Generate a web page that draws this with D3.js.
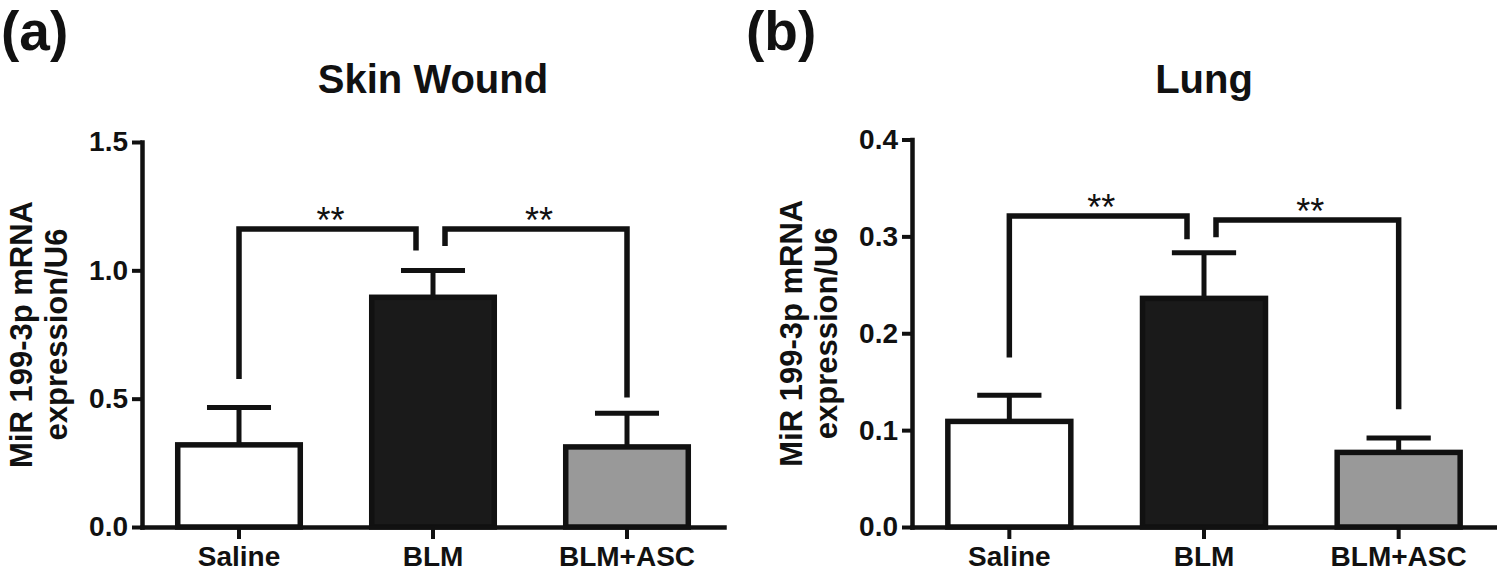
<!DOCTYPE html>
<html>
<head>
<meta charset="utf-8">
<script src="https://cdn.jsdelivr.net/npm/d3@7/dist/d3.min.js"></script>
<style>
  html, body { margin: 0; padding: 0; background: #ffffff; }
  svg { display: block; }
</style>
</head>
<body>
<svg id="chart" width="1497" height="572"></svg>
<script>
// ---------- DATA ----------
const categories = ["Saline", "BLM", "BLM+ASC"];

const skinTitle = "Skin Wound";
const skinMeans = [0.32, 0.895, 0.312];
const skinErrors = [0.146, 0.104, 0.131];
const skinTicks = [0.0, 0.5, 1.0, 1.5];
const skinDomain = [0, 1.5];
// brackets: [fromCategory, toCategory, leg bottom at "from", leg bottom at "to", top level, label]
const skinBrackets = [
  [0, 1, 0.577, 1.077, 1.161, "**"],
  [1, 2, 1.095, 0.505, 1.161, "**"]
];

const lungTitle = "Lung";
const lungMeans = [0.109, 0.236, 0.077];
const lungErrors = [0.027, 0.047, 0.015];
const lungTicks = [0.0, 0.1, 0.2, 0.3, 0.4];
const lungDomain = [0, 0.4];
const lungBrackets = [
  [0, 1, 0.175, 0.297, 0.321, "**"],
  [1, 2, 0.299, 0.1215, 0.317, "**"]
];

const barFills = ["#ffffff", "#1a1a1a", "#999999"];
const yLabelLines = ["MiR 199-3p mRNA", "expression/U6"];
const panelLetters = ["(a)", "(b)"];

// ---------- DRAW ----------
const FONT = "Liberation Sans, Arial, Helvetica, sans-serif";
const svg = d3.select("#chart");
svg.append("rect").attr("width", 1497).attr("height", 572).attr("fill", "#fff");

function drawPanel(cfg) {
  const g = svg.append("g");
  const x = d3.scaleBand().domain(categories)
    .range([cfg.left, cfg.right]).paddingInner(0.34).paddingOuter(0.17);
  const y = d3.scaleLinear().domain(cfg.domain).range([cfg.bottom, cfg.top]);
  const bw = x.bandwidth();
  const cx = c => x(c) + bw / 2;
  const SW = 5.5;

  // bars
  g.selectAll("rect.bar").data(cfg.means).enter().append("rect")
    .attr("class", "bar")
    .attr("x", (d, i) => x(categories[i]) + SW / 2)
    .attr("width", bw - SW)
    .attr("y", d => y(d))
    .attr("height", d => y(0) - y(d))
    .attr("fill", (d, i) => barFills[i])
    .attr("stroke", "#111")
    .attr("stroke-width", SW);

  // error bars (upper only)
  cfg.means.forEach((m, i) => {
    const c = cx(categories[i]);
    const top = y(m + cfg.errors[i]);
    g.append("line").attr("x1", c).attr("x2", c)
      .attr("y1", y(m)).attr("y2", top)
      .attr("stroke", "#111").attr("stroke-width", 5);
    g.append("line").attr("x1", c - bw / 4).attr("x2", c + bw / 4)
      .attr("y1", top).attr("y2", top)
      .attr("stroke", "#111").attr("stroke-width", 5);
  });

  // axes
  const yAxis = d3.axisLeft(y).tickValues(cfg.ticks).tickFormat(d3.format(".1f"))
    .tickSize(10).tickPadding(4).tickSizeOuter(0);
  const ya = g.append("g").attr("transform", `translate(${cfg.left},0)`).call(yAxis);
  const xAxis = d3.axisBottom(x).tickSize(12).tickPadding(7).tickSizeOuter(0);
  const xa = g.append("g").attr("transform", `translate(0,${cfg.bottom})`).call(xAxis);
  [ya, xa].forEach(a => {
    a.selectAll("path.domain").attr("stroke", "#111").attr("stroke-width", 4.5)
      .attr("stroke-linecap", "square");
    a.selectAll(".tick line").attr("stroke", "#111").attr("stroke-width", 4);
    a.selectAll(".tick text").attr("fill", "#111")
      .attr("font-family", FONT).attr("font-weight", "bold").attr("font-size", 28);
  });

  // brackets
  cfg.brackets.forEach(b => {
    const x1 = cx(categories[b[0]]) + (b[0] === 1 ? 12 : 0);
    const x2 = cx(categories[b[1]]) - (b[1] === 1 ? 17 : 0);
    const yt = y(b[4]);
    g.append("path")
      .attr("d", `M${x1},${y(b[2])}V${yt}H${x2}V${y(b[3])}`)
      .attr("fill", "none").attr("stroke", "#111").attr("stroke-width", 5.5)
      .attr("stroke-linejoin", "miter");
    g.append("text").attr("x", (x1 + x2) / 2 + 3).attr("y", yt + 4)
      .attr("text-anchor", "middle").attr("font-family", FONT)
      .attr("font-size", 36).attr("fill", "#111").text(b[5]);
  });

  // title
  g.append("text").attr("x", (cfg.left + cfg.right) / 2).attr("y", 93)
    .attr("text-anchor", "middle").attr("font-family", FONT)
    .attr("font-weight", "bold").attr("font-size", 40).attr("fill", "#111")
    .text(cfg.title);

  // panel letter
  g.append("text").attr("x", cfg.letterX).attr("y", 50)
    .attr("font-family", FONT).attr("font-weight", "bold")
    .attr("font-size", 55).attr("fill", "#111").text(cfg.letter);

  // y label
  const midY = (cfg.top + cfg.bottom) / 2;
  [110, 75].forEach((off, i) => {
    g.append("text")
      .attr("transform", `translate(${cfg.left - off},${midY}) rotate(-90)`)
      .attr("text-anchor", "middle").attr("font-family", FONT)
      .attr("font-weight", "bold").attr("font-size", 31).attr("fill", "#111")
      .text(yLabelLines[i]);
  });
}

drawPanel({
  left: 142, right: 724, top: 142, bottom: 527,
  domain: skinDomain, ticks: skinTicks, means: skinMeans, errors: skinErrors,
  brackets: skinBrackets, title: skinTitle, letter: panelLetters[0], letterX: 1
});
drawPanel({
  left: 912, right: 1496, top: 139.5, bottom: 527,
  domain: lungDomain, ticks: lungTicks, means: lungMeans, errors: lungErrors,
  brackets: lungBrackets, title: lungTitle, letter: panelLetters[1], letterX: 746
});
</script>
</body>
</html>
